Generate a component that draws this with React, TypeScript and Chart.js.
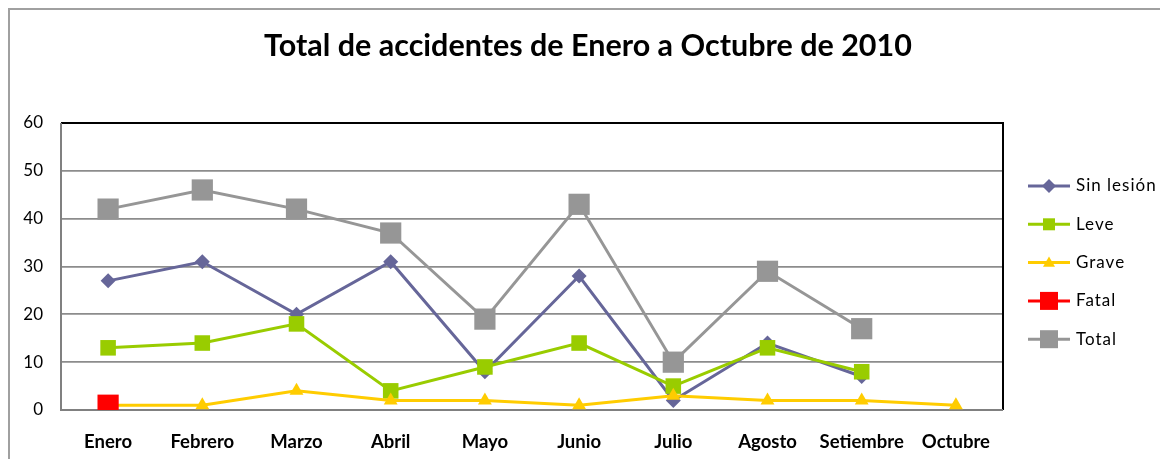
import { useEffect, useRef } from "react";
import { Chart, registerables } from "chart.js";

Chart.register(...registerables);

const chartTitle = "Total de accidentes de Enero a Octubre de 2010";
const months = ["Enero", "Febrero", "Marzo", "Abril", "Mayo", "Junio", "Julio", "Agosto", "Setiembre", "Octubre"];
const sinLesion = [27, 31, 20, 31, 8, 28, 2, 14, 7, null];
const leve = [13, 14, 18, 4, 9, 14, 5, 13, 8, null];
const grave = [1, 1, 4, 2, 2, 1, 3, 2, 2, 1];
const fatal = [1, null, null, null, null, null, null, null, null, null];
const total = [42, 46, 42, 37, 19, 43, 10, 29, 17, null];
const yMin = 0;
const yMax = 60;
const yStep = 10;

const FONT = "Lato, 'Noto Sans', sans-serif";

type SeriesStyle = { label: string; data: (number | null)[]; color: string; style: string; radius: number; legendSize: number; order: number };

const series: SeriesStyle[] = [
  { label: "Sin lesión", data: sinLesion, color: "#666699", style: "rectRot", radius: 7.5, legendSize: 7, order: 5 },
  { label: "Leve", data: leve, color: "#99CC00", style: "rect", radius: 11, legendSize: 6, order: 4 },
  { label: "Grave", data: grave, color: "#FFCC00", style: "triangle", radius: 8, legendSize: 6, order: 3 },
  { label: "Fatal", data: fatal, color: "#FF0000", style: "rect", radius: 15, legendSize: 9, order: 2 },
  { label: "Total", data: total, color: "#969696", style: "rect", radius: 15, legendSize: 9, order: 1 },
];

const decorPlugin = {
  id: "decor",
  beforeDraw(chart: any) {
    const ctx = chart.ctx;
    ctx.save();
    ctx.fillStyle = "#ffffff";
    ctx.fillRect(0, 0, chart.width, chart.height);
    ctx.fillStyle = "#a0a0a0";
    ctx.fillRect(0, 0, chart.width, 2);
    ctx.fillRect(0, 0, 2, chart.height);
    ctx.fillStyle = "#000";
    ctx.font = `bold 30.5px ${FONT}`;
    ctx.textAlign = "center";
    ctx.textBaseline = "middle";
    ctx.fillText(chartTitle, 580, 38);
    ctx.restore();
  },
  beforeDatasetsDraw(chart: any) {
    const { ctx, chartArea } = chart;
    const { left, right, top, bottom } = chartArea;
    ctx.save();
    ctx.lineWidth = 2;
    ctx.strokeStyle = "#000";
    ctx.beginPath();
    ctx.moveTo(left, top);
    ctx.lineTo(right, top);
    ctx.lineTo(right, bottom);
    ctx.stroke();
    ctx.strokeStyle = "#808080";
    ctx.beginPath();
    ctx.moveTo(left, top);
    ctx.lineTo(left, bottom);
    ctx.lineTo(right, bottom);
    ctx.stroke();
    ctx.restore();
  },
  afterDraw(chart: any) {
    const ctx = chart.ctx;
    ctx.save();
    const x0 = 1020;
    const x1 = 1062;
    const cx = (x0 + x1) / 2;
    const textX = 1068;
    const startY = 178;
    const gap = 38.3;
    series.forEach((s, i) => {
      const y = startY + i * gap;
      ctx.strokeStyle = s.color;
      ctx.lineWidth = 3;
      ctx.beginPath();
      ctx.moveTo(x0, y);
      ctx.lineTo(x1, y);
      ctx.stroke();
      ctx.fillStyle = s.color;
      const r = s.legendSize;
      ctx.beginPath();
      if (s.style === "rectRot") {
        ctx.moveTo(cx, y - r);
        ctx.lineTo(cx + r, y);
        ctx.lineTo(cx, y + r);
        ctx.lineTo(cx - r, y);
        ctx.closePath();
      } else if (s.style === "triangle") {
        ctx.moveTo(cx, y - r);
        ctx.lineTo(cx + r, y + r * 0.7);
        ctx.lineTo(cx - r, y + r * 0.7);
        ctx.closePath();
      } else {
        ctx.rect(cx - r, y - r, 2 * r, 2 * r);
      }
      ctx.fill();
      ctx.fillStyle = "#000";
      ctx.font = `17px ${FONT}`;
      (ctx as any).letterSpacing = "1px";
      ctx.textAlign = "left";
      ctx.textBaseline = "middle";
      ctx.fillText(s.label, textX, y);
      (ctx as any).letterSpacing = "0px";
    });
    ctx.restore();
  },
};

export default function App() {
  const ref = useRef<HTMLCanvasElement | null>(null);
  useEffect(() => {
    if (!ref.current) return;
    const chart = new Chart(ref.current, {
      type: "line",
      data: {
        labels: months,
        datasets: series.map((s) => ({
          label: s.label,
          data: s.data,
          borderColor: s.color,
          backgroundColor: s.color,
          pointBackgroundColor: s.color,
          pointBorderColor: s.color,
          pointStyle: s.style as any,
          pointRadius: s.radius,
          pointBorderWidth: 0,
          borderWidth: 3,
          tension: 0,
          spanGaps: false,
          order: s.order,
        })),
      },
      options: {
        responsive: false,
        animation: false,
        events: [],
        layout: { padding: { top: 115, right: 165, left: 0, bottom: 0 } },
        plugins: { legend: { display: false }, title: { display: false }, tooltip: { enabled: false } },
        scales: {
          x: {
            offset: true,
            grid: { display: false, drawTicks: false },
            border: { display: false },
            ticks: { color: "#000", font: { family: FONT, size: 18.5, weight: "bold" }, padding: 21, maxRotation: 0, autoSkip: false },
            afterFit: (scale: any) => { scale.height = 49; },
          },
          y: {
            min: yMin,
            max: yMax,
            grid: { color: "#8c8c8c", lineWidth: 1.8, drawTicks: false },
            border: { display: false },
            ticks: { stepSize: yStep, color: "#000", font: { family: FONT, size: 17 }, padding: 18 },
            afterFit: (scale: any) => { scale.width = 53; },
          },
        },
      },
      plugins: [decorPlugin],
    });
    return () => chart.destroy();
  }, []);
  return <canvas ref={ref} width={1160} height={451} style={{ display: "block" }} />;
}
